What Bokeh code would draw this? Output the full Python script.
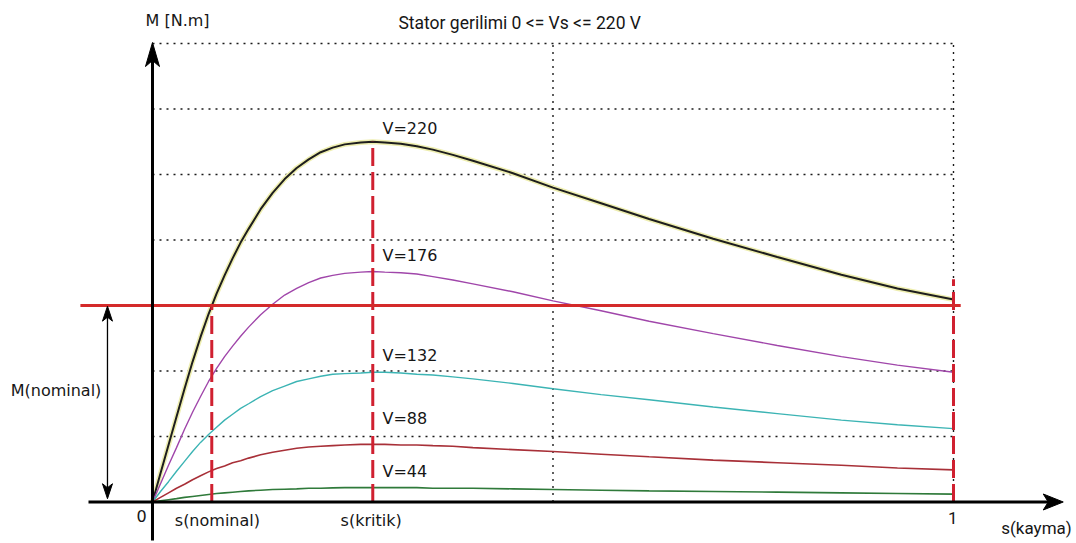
from bokeh.plotting import figure
from bokeh.models import Range1d, Label
from bokeh.embed import file_html
from bokeh.resources import INLINE

# ---- data (slip s, torque M in grid units) ----
slip = [0, 0.01, 0.02, 0.03, 0.04, 0.05, 0.06, 0.07, 0.08, 0.09, 0.10, 0.11, 0.12,
        0.135, 0.15, 0.165, 0.18, 0.195, 0.21, 0.225, 0.24,
        0.26, 0.275, 0.29, 0.31, 0.33, 0.35, 0.375, 0.40,
        0.45, 0.50, 0.56, 0.62, 0.70, 0.78, 0.86, 0.93, 1.0]
m_220 = [0, 0.44, 0.87, 1.30, 1.73, 2.14, 2.52, 2.87, 3.18, 3.46, 3.72, 3.96, 4.17,
         4.47, 4.72, 4.93, 5.10, 5.23, 5.34, 5.41, 5.46,
         5.49, 5.50, 5.49, 5.47, 5.43, 5.38, 5.30, 5.21,
         5.02, 4.80, 4.56, 4.32, 4.02, 3.74, 3.47, 3.26, 3.09]
m_176 = [0, 0.28, 0.56, 0.83, 1.11, 1.37, 1.61, 1.84, 2.04, 2.22, 2.38, 2.53, 2.67,
         2.86, 3.02, 3.16, 3.26, 3.35, 3.42, 3.46, 3.49,
         3.51, 3.52, 3.51, 3.50, 3.48, 3.44, 3.39, 3.33,
         3.21, 3.07, 2.92, 2.76, 2.57, 2.39, 2.22, 2.09, 1.98]
m_132 = [0, 0.16, 0.31, 0.47, 0.62, 0.77, 0.91, 1.03, 1.14, 1.25, 1.34, 1.43, 1.50,
         1.61, 1.70, 1.77, 1.84, 1.88, 1.92, 1.95, 1.96,
         1.97, 1.98, 1.98, 1.97, 1.95, 1.94, 1.91, 1.88,
         1.81, 1.73, 1.64, 1.56, 1.45, 1.35, 1.25, 1.18, 1.12]
m_88 = [0, 0.07, 0.14, 0.21, 0.27, 0.34, 0.40, 0.46, 0.51, 0.55, 0.60, 0.63, 0.67,
        0.72, 0.76, 0.79, 0.82, 0.84, 0.85, 0.86, 0.87,
        0.88, 0.88, 0.88, 0.87, 0.87, 0.86, 0.85, 0.83,
        0.80, 0.77, 0.73, 0.69, 0.64, 0.60, 0.56, 0.52, 0.49]
m_44 = [0, 0.018, 0.035, 0.052, 0.07, 0.085, 0.10, 0.115, 0.13, 0.14, 0.15, 0.16, 0.17,
        0.18, 0.19, 0.195, 0.20, 0.21, 0.21, 0.215, 0.22,
        0.22, 0.22, 0.22, 0.22, 0.22, 0.21, 0.21, 0.21,
        0.20, 0.19, 0.18, 0.17, 0.16, 0.15, 0.14, 0.13, 0.12]
voltage_labels = ["V=220", "V=176", "V=132", "V=88", "V=44"]

s_nominal = 0.074
s_kritik = 0.275
s_end = 1.0
m_nominal = 3.0
m_end_mark = 3.4
grid_levels = [1, 2, 3, 4, 5, 6, 7]
grid_slips = [0.5, 1.0]

for arr in (m_220, m_176, m_132, m_88, m_44):
    assert len(arr) == len(slip)

# ---- pixel scale helpers ----
W, H = 1076, 543
X0, X1 = -0.18976, 1.15356
Y0, Y1 = -0.6336, 7.6565
SX = (X1 - X0) / W   # data per px in x
SY = (Y1 - Y0) / H   # data per px in y

p = figure(width=W, height=H, x_range=Range1d(X0, X1), y_range=Range1d(Y0, Y1),
           output_backend="svg", toolbar_location=None,
           x_axis_location=None, y_axis_location=None, min_border=0)
p.outline_line_color = None
p.grid.visible = False
p.background_fill_color = "white"
p.border_fill_color = "white"

# dotted grid
top = max(grid_levels)
p.segment(x0=[0] * len(grid_levels), y0=grid_levels, x1=[1.0] * len(grid_levels), y1=grid_levels,
          line_color="#1a1a1a", line_width=1.4, line_dash="2 5")
p.segment(x0=grid_slips, y0=[0] * len(grid_slips), x1=grid_slips, y1=[top] * len(grid_slips),
          line_color="#1a1a1a", line_width=1.4, line_dash="2 5")

# curves
p.line(slip, m_220, line_color="#eeeeb0", line_width=5)
p.line(slip, m_220, line_color="#1e1e1e", line_width=2)
p.line(slip, m_176, line_color="#a046aa", line_width=1.4)
p.line(slip, m_132, line_color="#3cb4b4", line_width=1.4)
p.line(slip, m_88, line_color="#a83038", line_width=1.6)
p.line(slip, m_44, line_color="#2f7a3a", line_width=1.6)

# red marker lines
red = "#d42a2a"
p.segment(x0=[s_nominal, s_kritik, s_end], y0=[0, 0, 0],
          x1=[s_nominal, s_kritik, s_end], y1=[m_nominal, max(m_220), m_end_mark],
          line_color="#d02030", line_width=3, line_dash="18 6")
p.line([-0.09, 1.009], [m_nominal, m_nominal], line_color=red, line_width=3)

# axes with arrows
ytip = 7.015
p.line([0, 0], [-0.588, ytip - 12 * SY], line_color="black", line_width=3)
p.patch([0, -7 * SX, 0, 7 * SX], [ytip, ytip - 24 * SY, ytip - 18 * SY, ytip - 24 * SY],
        color="black", line_width=1)
xtip = 1.137
p.line([-0.0799, xtip - 10 * SX], [0, 0], line_color="black", line_width=3)
p.patch([xtip, xtip - 20 * SX, xtip - 15 * SX, xtip - 20 * SX], [0, 8 * SY, 0, -8 * SY],
        color="black", line_width=1)

# M(nominal) double arrow
ax = -0.0562
lo, hi = 0.05, m_nominal - 0.01
p.line([ax, ax], [lo + 8 * SY, hi - 8 * SY], line_color="black", line_width=1.3)
p.patch([ax, ax - 5 * SX, ax, ax + 5 * SX], [hi, hi - 15 * SY, hi - 11 * SY, hi - 15 * SY],
        color="black")
p.patch([ax, ax - 5 * SX, ax, ax + 5 * SX], [lo, lo + 15 * SY, lo + 11 * SY, lo + 15 * SY],
        color="black")

FONT = "DejaVu Sans"
NARROW = "Roboto"

def lab(x, y, t, align="left", size="16px", font=FONT, color="#161616"):
    p.add_layout(Label(x=x, y=y, text=t, text_align=align, text_baseline="middle",
                       text_font=font, text_font_size=size, text_color=color))

lab(-0.0087, 7.35, "M [N.m]")
lab(0.307, 7.32, "Stator gerilimi  0 <= Vs <= 220 V", size="17.5px", font=NARROW)
lab(-0.177, 1.70, "M(nominal)")
lab(-0.0137, -0.22, "0", align="center")
lab(0.081, -0.28, "s(nominal)", align="center")
lab(0.273, -0.28, "s(kritik)", align="center")
lab(0.999, -0.24, "1", align="center", size="17px", font=NARROW)
lab(1.1036, -0.39, "s(kayma)", align="center", size="17px", font=NARROW)

label_y = [5.70, 3.76, 2.24, 1.27, 0.47]
for t, yy in zip(voltage_labels, label_y):
    lab(0.2871, yy, t)

open("out.html", "w").write(file_html(p, INLINE))
